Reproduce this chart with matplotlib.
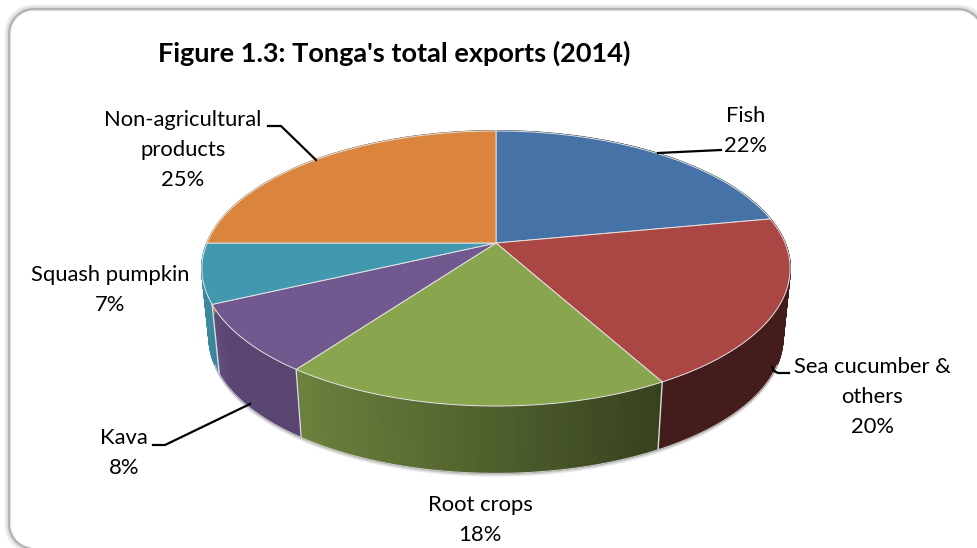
import numpy as np
import matplotlib
matplotlib.use("Agg")
import matplotlib.pyplot as plt

plt.rcParams["font.family"] = ["Lato", "DejaVu Sans"]

# values, clockwise from 12 o'clock
names = ["Fish", "Sea cucumber &\nothers", "Root crops", "Kava", "Squash pumpkin", "Non-agricultural\nproducts"]
shares = [22, 20, 18, 8, 7, 25]
colors = ["#4573a7", "#aa4644", "#89a54e", "#71588f", "#4198af", "#db843d"]
title = "Figure 1.3: Tonga's total exports (2014)"

# where the labels sit, px
label_xy = [(746, 131), (872, 397), (480, 520), (124, 453), (110, 290), (183, 150)]
leaders = [
    [(658, 153), (721, 150)],
    [(772, 367), (774, 371), (778, 373), (789, 373)],
    [],
    [(153, 445), (165, 445), (250, 404)],
    [],
    [(268, 126), (281, 126), (316, 160)],
]

# pie geometry, px
CX, CY = 496, 243
RX, RY, PERSP = 289, 132.8, 0.1854
LOW_CY, LOW_SCALE = 313, 0.98


def top_rim(a):
    d = 1 + PERSP * np.cos(a)
    return CX + RX * np.sin(a) / d, CY - RY * np.cos(a) / d


def low_rim(a):
    x, y = top_rim(a)
    return CX + (x - CX) * 0.975, LOW_CY + (y - CY) * LOW_SCALE


def side_shade(x):
    return np.interp(x, [205, 225, 300, 660], [0.9, 0.8, 0.78, 0.40])


fig = plt.figure(figsize=(9.77, 5.48), dpi=100)
ax = fig.add_axes([0, 0, 1, 1])
ax.set_xlim(0, 977)
ax.set_ylim(548, 0)
ax.axis("off")

# frame with its soft edge, runs off the right and bottom of the picture
t = np.linspace(0, np.pi / 2, 30)
R = 25
for lw, col, off in [(5, "#efefef", -1), (3, "#dcdcdc", -0.5), (1.2, "#ababab", 0)]:
    left, top, right, bottom = 9 + off, 9 + off, 983 - off, 549 - off
    xs = np.r_[left + R - R * np.sin(t), left + R - R * np.cos(t), right - R + R * np.sin(t), right]
    ys = np.r_[bottom - R + R * np.cos(t), top + R - R * np.sin(t), top + R - R * np.cos(t), bottom]
    ax.plot(xs, ys, color=col, lw=lw, zorder=1, solid_joinstyle="round")

edges = np.cumsum([0] + shares) / sum(shares) * 2 * np.pi
rim = np.linspace(0, 2 * np.pi, 361)

# shadow under the lower rim
lx, ly = low_rim(rim)
for grow, col in [(4, "#ececec"), (3, "#dddddd"), (2, "#c4c4c4"), (1, "#a8a8a8")]:
    ax.fill(lx, ly + grow, color=col, lw=0, zorder=2)

# outer wall, strip by strip
for i, col in enumerate(colors):
    base = np.array(matplotlib.colors.to_rgb(col))
    a = np.linspace(edges[i], edges[i + 1], max(int(shares[i] * 6), 2) + 1)
    for a0, a1 in zip(a[:-1], a[1:]):
        x0, y0 = top_rim(np.array([a0, a1]))
        x1, y1 = low_rim(np.array([a1, a0]))
        shade = side_shade((x0[0] + x0[1]) / 2)
        c = tuple(base * shade)
        ax.fill(np.r_[x0, x1], np.r_[y0, y1], fc=c, ec=c, lw=1.2, zorder=3)

# light line on the visible lower rim only
front = np.linspace(0.62 * np.pi, 1.38 * np.pi, 200)
fx, fy = low_rim(front)
ax.plot(fx, fy + 0.6, color="#d0d0d0", lw=0.7, zorder=3.5)

# wall seams
for e in edges[:-1]:
    if np.pi / 2 < e < 1.5 * np.pi:
        x0, y0 = top_rim(e)
        x1, y1 = low_rim(e)
        ax.plot([x0, x1], [y0, y1], color="#d8d8d8", lw=1, zorder=3.6)

# top faces
for i, col in enumerate(colors):
    a = np.linspace(edges[i], edges[i + 1], shares[i] * 6 + 1)
    x, y = top_rim(a)
    ax.fill(np.r_[CX, x], np.r_[CY, y], fc=col, ec="#e4e4e4", lw=0.7, zorder=4, joinstyle="round")

for pts in leaders:
    if pts:
        xs, ys = zip(*pts)
        ax.plot(xs, ys, color="black", lw=1.6, zorder=5)

for name, pct, (x, y) in zip(names, shares, label_xy):
    ax.text(x, y, f"{name}\n{pct}%", ha="center", va="center", fontsize=15.8, color="black",
            linespacing=1.62, zorder=6)

ax.text(158, 53, title, ha="left", va="center", fontsize=19.5, fontweight="bold", color="black", zorder=6)

fig.savefig("out.png", dpi=100, facecolor="white")
